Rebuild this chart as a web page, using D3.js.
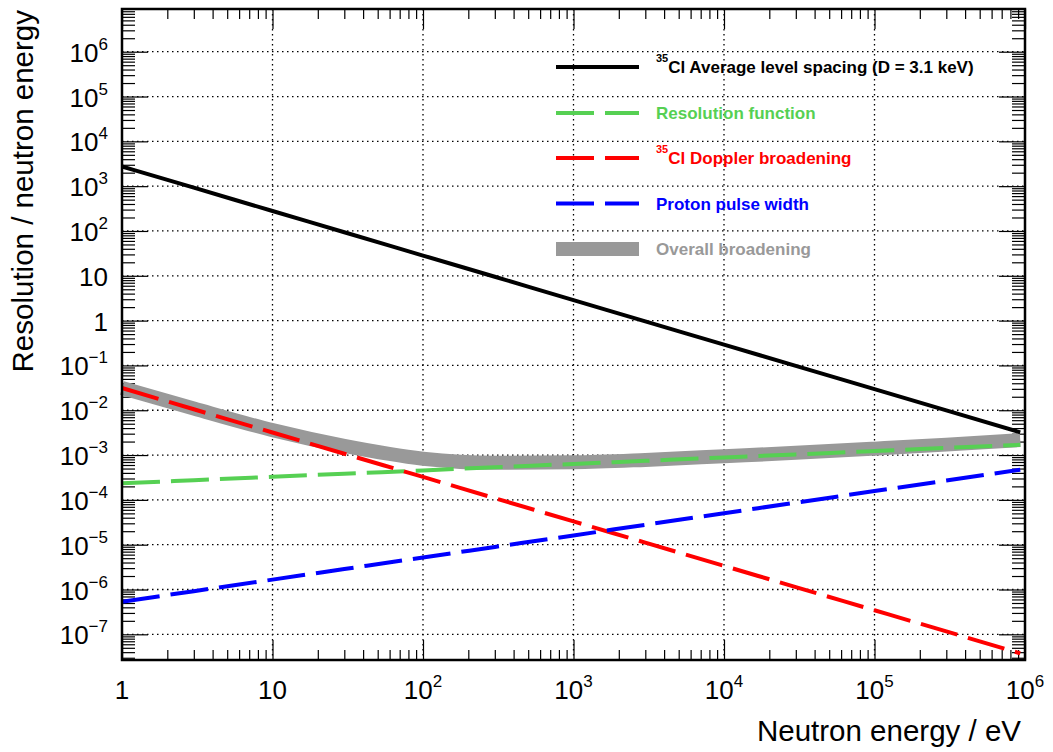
<!DOCTYPE html>
<html><head><meta charset="utf-8">
<script src="https://cdn.jsdelivr.net/npm/d3@7"></script>
<style>
html,body{margin:0;padding:0;background:#fff;}
svg{display:block;font-family:"Liberation Sans",Arial,Helvetica,sans-serif;}
</style></head>
<body><svg id="c" width="1053" height="752"></svg>
<script>
// ---------- data ----------
const energies = [1, 3, 10, 30, 100, 300, 1000, 3000, 1e4, 3e4, 1e5, 3e5, 9.3e5];
const levelSpacing = [2750, 925, 279, 93.8, 28.3, 9.5, 2.87, 0.964, 0.291, 0.0977, 0.0295, 0.0099, 0.00322];
const resolutionFn = [2.34e-4, 2.75e-4, 3.27e-4, 3.83e-4, 4.55e-4, 5.33e-4, 6.34e-4, 7.43e-4, 8.83e-4, 1.035e-3, 1.23e-3, 1.44e-3, 1.69e-3];
const doppler = [3.13e-2, 1.05e-2, 3.19e-3, 1.07e-3, 3.25e-4, 1.09e-4, 3.31e-5, 1.11e-5, 3.37e-6, 1.13e-6, 3.44e-7, 1.16e-7, 3.77e-8];
const protonPulse = [5.35e-7, 9.18e-7, 1.66e-6, 2.86e-6, 5.19e-6, 8.91e-6, 1.61e-5, 2.78e-5, 5.04e-5, 8.65e-5, 1.57e-4, 2.70e-4, 4.71e-4];
const overall = [3.15e-2, 1.09e-2, 3.6e-3, 1.6e-3, 8.3e-4, 6.7e-4, 6.9e-4, 7.8e-4, 9.4e-4, 1.12e-3, 1.39e-3, 1.71e-3, 2.16e-3];

const xMajorTicks = [1, 10, 100, 1e3, 1e4, 1e5, 1e6];
const xTickLabels = [["1",""],["10",""],["10","2"],["10","3"],["10","4"],["10","5"],["10","6"]];
const yMajorTicks = [1e-7,1e-6,1e-5,1e-4,1e-3,1e-2,1e-1,1,10,100,1e3,1e4,1e5,1e6];
const yTickLabels = [["10","\u22127"],["10","\u22126"],["10","\u22125"],["10","\u22124"],["10","\u22123"],["10","\u22122"],["10","\u22121"],["1",""],["10",""],["10","2"],["10","3"],["10","4"],["10","5"],["10","6"]];

const xTitle = "Neutron energy / eV";
const yTitle = "Resolution / neutron energy";

const legendSup = ["35", "", "35", "", ""];
const legendText = ["Cl Average level spacing (D = 3.1 keV)", "Resolution function", "Cl Doppler broadening", "Proton pulse width", "Overall broadening"];

// ---------- styles ----------
const colBlack = "#000000", colGreen = "#56d053", colRed = "#ff0000", colBlue = "#0000ff", colGray = "#999999";
const dash = "38,11";

const series = [
  {vals: overall, color: colGray, width: 14, dash: null},
  {vals: resolutionFn, color: colGreen, width: 4, dash: dash},
  {vals: doppler, color: colRed, width: 4, dash: dash},
  {vals: protonPulse, color: colBlue, width: 4, dash: dash},
  {vals: levelSpacing, color: colBlack, width: 4, dash: null}
];
const legendStyles = [
  {color: colBlack, width: 4, dash: null, text: colBlack},
  {color: colGreen, width: 4, dash: dash, text: colGreen},
  {color: colRed, width: 4, dash: dash, text: colRed},
  {color: colBlue, width: 4, dash: dash, text: colBlue},
  {color: colGray, width: 14, dash: null, text: colGray}
];

const L = 122, R = 1025, T = 9, B = 660;
const svg = d3.select("#c");
const x = d3.scaleLog().domain([1, 1e6]).range([L, R]);
const y = d3.scaleLog().domain([Math.pow(10, -7.573), Math.pow(10, 6.953)]).range([B, T]);

function minors(lo, hi, d0, d1) {
  const out = [];
  for (let k = d0; k <= d1; k++) for (let m = 2; m <= 9; m++) {
    const v = m * Math.pow(10, k);
    if (v > lo && v < hi) out.push(v);
  }
  return out;
}
const yDom = y.domain();
const yMin = minors(yDom[0], yDom[1], -8, 6);
const xMin = minors(1, 1e6, 0, 5);
const yMaj = yMajorTicks.filter(v => v >= yDom[0] && v <= yDom[1]);

// grid
const grid = svg.append("g").attr("stroke", "#000").attr("stroke-width", 1.3).attr("stroke-dasharray", "1.5,3.5");
grid.selectAll("line.gx").data(xMajorTicks.slice(1, -1)).join("line")
  .attr("x1", d => x(d)).attr("x2", d => x(d)).attr("y1", T).attr("y2", B);
grid.selectAll("line.gy").data(yMaj).join("line")
  .attr("x1", L).attr("x2", R).attr("y1", d => y(d)).attr("y2", d => y(d));

function styleAxis(g) { g.select(".domain").remove(); g.selectAll("line").attr("stroke", "#000").attr("stroke-width", 1.2); g.selectAll("text").remove(); }
svg.append("g").attr("transform", `translate(0,${B})`).call(d3.axisBottom(x).tickValues(xMin).tickSize(-10).tickFormat("")).call(styleAxis);
svg.append("g").attr("transform", `translate(0,${B})`).call(d3.axisBottom(x).tickValues(xMajorTicks).tickSize(-20).tickFormat("")).call(styleAxis);
svg.append("g").attr("transform", `translate(0,${T})`).call(d3.axisTop(x).tickValues(xMin).tickSize(-10).tickFormat("")).call(styleAxis);
svg.append("g").attr("transform", `translate(0,${T})`).call(d3.axisTop(x).tickValues(xMajorTicks).tickSize(-20).tickFormat("")).call(styleAxis);
svg.append("g").attr("transform", `translate(${L},0)`).call(d3.axisLeft(y).tickValues(yMin).tickSize(-13).tickFormat("")).call(styleAxis);
svg.append("g").attr("transform", `translate(${L},0)`).call(d3.axisLeft(y).tickValues(yMaj).tickSize(-26).tickFormat("")).call(styleAxis);
svg.append("g").attr("transform", `translate(${R},0)`).call(d3.axisRight(y).tickValues(yMin).tickSize(-13).tickFormat("")).call(styleAxis);
svg.append("g").attr("transform", `translate(${R},0)`).call(d3.axisRight(y).tickValues(yMaj).tickSize(-26).tickFormat("")).call(styleAxis);

// series
const line = d3.line().x((d, i) => x(energies[i])).y(d => y(d)).curve(d3.curveMonotoneX);
series.forEach(s => {
  svg.append("path").datum(s.vals).attr("d", line)
    .attr("fill", "none").attr("stroke", s.color).attr("stroke-width", s.width)
    .attr("stroke-dasharray", s.dash).attr("stroke-linejoin", "round");
});

// frame
svg.append("rect").attr("x", L).attr("y", T).attr("width", R - L).attr("height", B - T)
  .attr("fill", "none").attr("stroke", "#000").attr("stroke-width", 2.5);

// tick labels
const fs = 26, sfs = 17;
xMajorTicks.forEach((v, i) => {
  const t = svg.append("text").attr("x", x(v)).attr("y", 699).attr("text-anchor", "middle")
    .attr("font-size", fs).attr("fill", "#000");
  t.append("tspan").text(xTickLabels[i][0]);
  if (xTickLabels[i][1]) t.append("tspan").attr("font-size", sfs).attr("dy", -12).text(xTickLabels[i][1]);
});
yMajorTicks.forEach((v, i) => {
  const t = svg.append("text").attr("x", 108).attr("y", y(v) + 10).attr("text-anchor", "end")
    .attr("font-size", fs).attr("fill", "#000");
  t.append("tspan").text(yTickLabels[i][0]);
  if (yTickLabels[i][1]) t.append("tspan").attr("font-size", sfs).attr("dy", -12).text(yTickLabels[i][1]);
});

// axis titles
svg.append("text").attr("x", 1021).attr("y", 741).attr("text-anchor", "end")
  .attr("font-size", 29.5).attr("fill", "#000").text(xTitle);
svg.append("text").attr("transform", "translate(33,10) rotate(-90)").attr("text-anchor", "end")
  .attr("font-size", 29.5).attr("fill", "#000").text(yTitle);

// legend
const legRows = [67, 113, 158, 203.5, 249];
legendStyles.forEach((st, i) => {
  const yy = legRows[i];
  svg.append("line").attr("x1", 556).attr("x2", 639).attr("y1", yy).attr("y2", yy)
    .attr("stroke", st.color).attr("stroke-width", st.width).attr("stroke-dasharray", st.dash);
  const t = svg.append("text").attr("x", 656).attr("y", yy + 6).attr("font-size", 17)
    .attr("font-weight", "bold").attr("fill", st.text);
  if (legendSup[i]) t.append("tspan").attr("font-size", 11).attr("dy", -11).text(legendSup[i]);
  t.append("tspan").attr("dy", legendSup[i] ? 11 : 0).text(legendText[i]);
});
</script>
</body></html>
